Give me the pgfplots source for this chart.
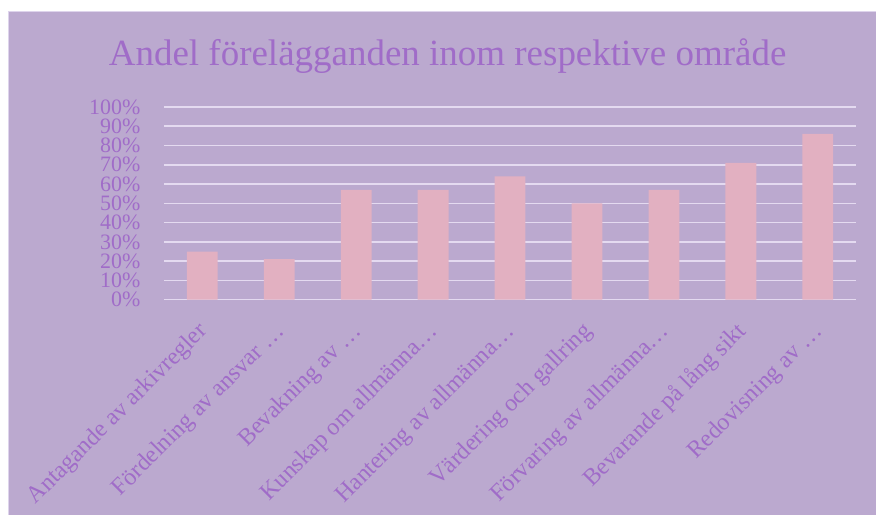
\documentclass[border=0pt]{standalone}
\usepackage{pgfplots}
\pgfplotsset{compat=1.18}
\usepackage{fontspec}
\setmainfont{Liberation Serif}
\definecolor{bgpurple}{RGB}{187,169,207}
\definecolor{barpink}{RGB}{226,176,193}
\definecolor{txtpurple}{RGB}{160,108,200}
\definecolor{gridlav}{RGB}{228,218,240}
\definecolor{framelav}{RGB}{222,212,236}
\begin{document}
\begin{tikzpicture}[x=1pt,y=1pt]
\fill[white] (0,0) rectangle (877,515);
\fill[bgpurple] (8,0) rectangle (877,504);
\draw[framelav, line width=1.5pt] (8.75,0) -- (8.75,503.25) -- (877,503.25);
\node[txtpurple, font=\fontsize{37}{40}\selectfont] at (448,459) {Andel förelägganden inom respektive område};
\begin{axis}[
  at={(164pt,215pt)}, anchor=south west,
  width=693pt, height=193pt, scale only axis,
  xmin=-0.5, xmax=8.5, ymin=0, ymax=1,
  axis line style={draw=none},
  ybar, bar width=0.4, bar shift=0pt,
  ytick={0,0.1,...,1.0},
  yticklabels={0\%,10\%,20\%,30\%,40\%,50\%,60\%,70\%,80\%,90\%,100\%},
  ymajorgrids, grid style={gridlav, line width=1.5pt},
  major tick length=0pt,
  yticklabel style={font=\fontsize{22}{22}\selectfont, text=txtpurple, xshift=-20pt},
  xtick={0,...,8},
  xticklabels={Antagande av arkivregler, Fördelning av ansvar …, Bevakning av …, Kunskap om allmänna…, Hantering av allmänna…, Värdering och gallring, Förvaring av allmänna…, Bevarande på lång sikt, Redovisning av …},
  xticklabel style={font=\fontsize{24}{24}\selectfont, text=txtpurple, xshift=-6pt, yshift=-19pt, rotate=45, anchor=north east, inner sep=1pt},
  clip=false,
]
\addplot[fill=barpink, draw=none] coordinates {
(0,0.25) (1,0.21) (2,0.57) (3,0.57) (4,0.64) (5,0.50) (6,0.57) (7,0.71) (8,0.86)};
\end{axis}
\end{tikzpicture}
\end{document}
